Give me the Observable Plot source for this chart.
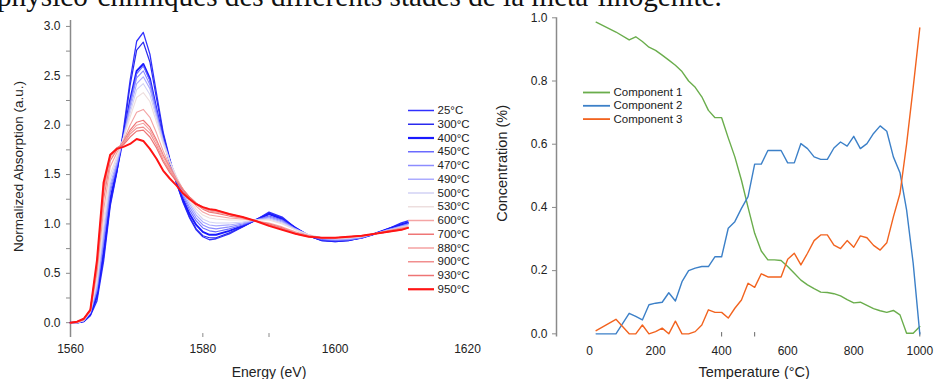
<!DOCTYPE html>
<html>
<head>
<meta charset="utf-8">
<script src="https://cdn.jsdelivr.net/npm/d3@7"></script>
<script src="https://cdn.jsdelivr.net/npm/@observablehq/plot@0.6"></script>
<style>
body{margin:0;background:#fff;}
#wrap{position:relative;width:944px;height:379px;overflow:hidden;background:#fff;font-family:"Liberation Sans",Arial,sans-serif;}
#caption{position:absolute;left:-3px;top:-18px;font:29.2px/29px "Liberation Serif","Times New Roman",serif;color:#111;white-space:nowrap;}
#left{position:absolute;left:0;top:0;}
#right{position:absolute;left:480px;top:0;}
#legL{position:absolute;left:400px;top:100px;}
#legR{position:absolute;left:575px;top:82px;}
</style>
</head>
<body>
<div id="wrap">
  <div id="caption">physico-chimiques des différents stades de la méta-linogénite.</div>
  <div id="left"></div>
  <div id="right"></div>
  <div id="legL"></div>
  <div id="legR"></div>
</div>
<script>
// ---------- Left panel: XANES spectra ----------
const energies = [1560,1561,1562,1563,1564,1565,1566,1567,1568,1569,1570,1571,1572,1573,1574,1575,1576,1577,1578,1579,1580,1581,1582,1584,1586,1588,1590,1592,1594,1596,1598,1600,1602,1604,1606,1608,1610,1611];
const tempLabels = ["25°C","300°C","400°C","450°C","470°C","490°C","500°C","530°C","600°C","700°C","880°C","900°C","930°C","950°C"];
const a25  = [0,0,0.01,0.07,0.22,0.62,1.18,1.52,1.95,2.45,2.85,2.94,2.72,2.32,1.93,1.66,1.42,1.22,1.06,0.94,0.87,0.84,0.85,0.90,0.97,1.04,1.12,1.07,0.96,0.88,0.83,0.82,0.83,0.86,0.90,0.95,1.01,1.03];
const a300 = [0,0,0.01,0.08,0.25,0.66,1.20,1.53,1.92,2.40,2.76,2.84,2.64,2.27,1.91,1.65,1.42,1.23,1.07,0.95,0.88,0.86,0.86,0.91,0.97,1.04,1.11,1.06,0.96,0.88,0.83,0.82,0.83,0.86,0.90,0.95,1.00,1.02];
const a400 = [0,0,0.02,0.09,0.28,0.72,1.25,1.55,1.88,2.25,2.55,2.62,2.47,2.16,1.86,1.63,1.43,1.25,1.10,0.99,0.92,0.89,0.89,0.93,0.98,1.04,1.10,1.05,0.96,0.88,0.84,0.83,0.84,0.86,0.90,0.95,0.99,1.01];
const a450 = [0,0,0.02,0.10,0.32,0.80,1.32,1.58,1.88,2.22,2.52,2.60,2.45,2.15,1.86,1.64,1.45,1.28,1.14,1.03,0.96,0.93,0.92,0.95,0.99,1.04,1.08,1.04,0.95,0.88,0.84,0.83,0.84,0.86,0.90,0.94,0.98,1.00];
const a470 = [0,0,0.02,0.10,0.34,0.84,1.36,1.60,1.88,2.20,2.48,2.55,2.41,2.12,1.85,1.64,1.46,1.30,1.17,1.06,0.99,0.96,0.95,0.97,1.00,1.04,1.07,1.03,0.95,0.88,0.85,0.84,0.84,0.86,0.90,0.94,0.98,1.00];
const a490 = [0,0,0.02,0.11,0.37,0.90,1.40,1.62,1.87,2.16,2.42,2.49,2.37,2.10,1.84,1.64,1.47,1.32,1.20,1.09,1.02,0.99,0.98,0.99,1.01,1.04,1.06,1.02,0.95,0.89,0.85,0.84,0.85,0.87,0.90,0.94,0.97,0.99];
const a500 = [0,0,0.02,0.11,0.40,0.96,1.45,1.65,1.87,2.12,2.36,2.42,2.31,2.07,1.83,1.64,1.48,1.34,1.22,1.12,1.05,1.02,1.01,1.01,1.02,1.04,1.05,1.01,0.94,0.89,0.86,0.85,0.85,0.87,0.90,0.93,0.97,0.98];
const a530 = [0,0,0.03,0.12,0.44,1.04,1.50,1.68,1.87,2.08,2.28,2.33,2.24,2.03,1.81,1.63,1.48,1.35,1.24,1.15,1.09,1.06,1.05,1.04,1.04,1.04,1.04,1.00,0.94,0.89,0.86,0.85,0.86,0.87,0.90,0.93,0.96,0.98];
const a600 = [0,0,0.03,0.12,0.50,1.14,1.58,1.72,1.84,2.00,2.13,2.16,2.08,1.92,1.74,1.59,1.46,1.35,1.26,1.18,1.12,1.09,1.08,1.06,1.05,1.03,1.01,0.97,0.92,0.88,0.86,0.86,0.86,0.88,0.90,0.93,0.96,0.97];
const a700 = [0,0.01,0.03,0.13,0.55,1.25,1.64,1.75,1.83,1.95,2.03,2.05,1.98,1.85,1.70,1.57,1.45,1.35,1.27,1.20,1.15,1.12,1.11,1.08,1.06,1.03,1.00,0.96,0.91,0.88,0.86,0.86,0.87,0.88,0.90,0.93,0.95,0.96];
const a880 = [0,0.01,0.04,0.13,0.58,1.30,1.67,1.76,1.82,1.93,2.00,2.02,1.95,1.83,1.68,1.56,1.45,1.35,1.27,1.21,1.16,1.13,1.12,1.09,1.06,1.03,0.99,0.95,0.91,0.88,0.86,0.86,0.87,0.88,0.90,0.92,0.95,0.96];
const a900 = [0,0.01,0.04,0.13,0.60,1.35,1.69,1.77,1.81,1.91,1.97,1.98,1.92,1.80,1.65,1.54,1.44,1.35,1.27,1.21,1.16,1.14,1.13,1.10,1.07,1.03,0.99,0.95,0.90,0.88,0.86,0.86,0.87,0.88,0.90,0.92,0.95,0.96];
const a930 = [0,0.01,0.04,0.13,0.61,1.38,1.70,1.77,1.80,1.88,1.94,1.95,1.88,1.77,1.63,1.52,1.43,1.34,1.27,1.21,1.17,1.15,1.14,1.10,1.07,1.03,0.99,0.95,0.90,0.87,0.86,0.86,0.87,0.88,0.90,0.92,0.94,0.96];
const a950 = [0,0.01,0.04,0.13,0.63,1.42,1.70,1.76,1.78,1.81,1.86,1.84,1.76,1.66,1.54,1.46,1.39,1.31,1.25,1.20,1.17,1.15,1.14,1.10,1.07,1.03,0.98,0.94,0.90,0.87,0.86,0.86,0.87,0.88,0.90,0.92,0.94,0.96];
const spectra = [a25,a300,a400,a450,a470,a490,a500,a530,a600,a700,a880,a900,a930,a950];
const specColors = ["#3030ff","#2a2aee","#1a1aff","#6a6aff","#8c8cff","#ababff","#d2d2f4","#eddede","#f4a4a4","#ef7676","#f4a2a2","#f18e8e","#ee7474","#ff1414"];
const specWidths = [1.3,1.2,2,1.1,1.1,1.1,1.1,1.1,1.1,1.2,1.1,1.1,1.2,2];
const yTicksL = [0,0.5,1.0,1.5,2.0,2.5,3.0];
const yMinorL = [0.25,0.75,1.25,1.75,2.25,2.75];
const xTicksL = [1560,1580,1600,1620];
const xMinorL = [1580,1590];

// ---------- Right panel: component concentrations ----------
const temperature = [20,80,120,140,160,180,200,220,240,260,280,300,320,340,360,380,400,420,440,460,480,500,520,540,560,580,600,620,640,660,680,700,720,740,760,780,800,820,840,860,880,900,920,940,960,980,1000];
const comp1 = [0.986,0.955,0.930,0.940,0.925,0.907,0.897,0.882,0.866,0.850,0.830,0.800,0.780,0.750,0.707,0.684,0.684,0.620,0.560,0.486,0.400,0.318,0.262,0.234,0.234,0.232,0.213,0.192,0.170,0.155,0.143,0.132,0.131,0.127,0.120,0.108,0.098,0.100,0.090,0.080,0.073,0.068,0.074,0.060,0.002,0.002,0.023];
const comp2 = [0,0,0.065,0.055,0.044,0.092,0.097,0.100,0.130,0.104,0.165,0.200,0.208,0.213,0.213,0.244,0.244,0.334,0.355,0.397,0.434,0.537,0.537,0.580,0.580,0.580,0.541,0.541,0.602,0.586,0.560,0.552,0.552,0.588,0.607,0.594,0.625,0.586,0.602,0.634,0.658,0.641,0.560,0.510,0.392,0.223,0.0];
const comp3 = [0.010,0.046,0.000,0.000,0.028,0.000,0.007,0.018,0.000,0.040,0.000,0.000,0.007,0.028,0.076,0.068,0.068,0.050,0.081,0.107,0.160,0.147,0.190,0.180,0.180,0.180,0.236,0.255,0.218,0.255,0.295,0.313,0.313,0.281,0.270,0.295,0.274,0.310,0.304,0.280,0.265,0.288,0.370,0.444,0.600,0.780,0.968];
const compNames = ["Component 1","Component 2","Component 3"];
const compColors = ["#6aad4c","#3c80c8","#f2631f"];
const yTicksR = [0,0.2,0.4,0.6,0.8,1.0];
const xTicksR = [0,200,400,600,800,1000];
const xMinorR = [400,500,1000];

const font = '"Liberation Sans", Arial, sans-serif';
const axisGray = "#8a8a8a";

const specMarks = spectra.map((arr, i) =>
  Plot.line(energies.map((e, j) => ({E: e, A: arr[j]})), {
    x: "E", y: "A", stroke: specColors[i], strokeWidth: specWidths[i]
  })
);

const left = Plot.plot({
  width: 480, height: 379,
  marginLeft: 70, marginRight: 13, marginTop: 20, marginBottom: 42,
  style: {fontFamily: font, fontSize: "12px", color: "#222", background: "transparent", overflow: "visible"},
  x: {domain: [1560, 1620]},
  y: {domain: [-0.15, 3.06]},
  marks: [
    Plot.ruleX([1560], {y1: -0.15, y2: 3.06, stroke: axisGray, strokeWidth: 1.5}),
    Plot.axisY(yTicksL, {tickSize: 4, tickPadding: 6, stroke: axisGray, fill: "#222", tickFormat: d => d.toFixed(1), label: null}),
    Plot.axisY(yMinorL, {tickSize: 4, stroke: axisGray, tickFormat: () => "", label: null}),
    Plot.axisX(xTicksL, {tickSize: 0, tickPadding: 7, fill: "#222", tickFormat: d => String(d), label: null}),
    Plot.ruleX(xMinorL, {y1: -0.15, y2: -0.11, stroke: axisGray}),
    ...specMarks,
    Plot.text(["Energy (eV)"], {text: d => d, frameAnchor: "bottom", dy: 35, lineAnchor: "middle", textAnchor: "middle", fontSize: 14, fill: "#222"}),
    Plot.text(["Normalized Absorption (a.u.)"], {text: d => d, frameAnchor: "left", dx: -51.5, dy: -12.5, rotate: -90, textAnchor: "middle", lineAnchor: "middle", fontSize: 13.5, fill: "#222"})
  ]
});
document.getElementById("left").append(left);

const compMarks = [comp1, comp2, comp3].map((arr, i) =>
  Plot.line(temperature.map((t, j) => ({T: t, C: arr[j]})), {
    x: "T", y: "C", stroke: compColors[i], strokeWidth: 1.4
  })
);

const right = Plot.plot({
  width: 464, height: 379,
  marginLeft: 76, marginRight: 24.7, marginTop: 17.3, marginBottom: 42.5,
  style: {fontFamily: font, fontSize: "12px", color: "#222", background: "transparent", overflow: "visible"},
  x: {domain: [-100, 1000]},
  y: {domain: [-0.01, 1.0]},
  marks: [
    Plot.ruleX([-100], {y1: -0.01, y2: 1.0, stroke: axisGray, strokeWidth: 1.5}),
    Plot.axisY(yTicksR, {tickSize: 4, tickPadding: 5, stroke: axisGray, fill: "#222", tickFormat: d => d.toFixed(1), label: null}),
    Plot.axisX(xTicksR, {tickSize: 0, tickPadding: 9.5, fill: "#222", tickFormat: d => String(d), label: null}),
    Plot.ruleX(xMinorR, {y1: -0.01, y2: 0.004, stroke: "#666"}),
    ...compMarks,
    Plot.text(["Temperature (°C)"], {text: d => d, frameAnchor: "bottom", dx: 16, dy: 35.5, lineAnchor: "middle", textAnchor: "middle", fontSize: 14.5, fill: "#222"}),
    Plot.text(["Concentration (%)"], {text: d => d, frameAnchor: "left", dx: -54, dy: -14, rotate: -90, textAnchor: "middle", lineAnchor: "middle", fontSize: 14.5, fill: "#222"})
  ]
});
document.getElementById("right").append(right);

// ---------- Legends (small Plots with their own scales) ----------
function legendPlot(labels, colors, widths, step, lineEnd) {
  const n = labels.length;
  return Plot.plot({
    width: 90, height: 20 + (n - 1) * step,
    margin: 0,
    style: {fontFamily: font, fontSize: "11.5px", color: "#222", background: "transparent", overflow: "visible"},
    x: {domain: [0, 90], range: [0, 90], axis: null},
    y: {type: "point", domain: labels, range: [10, 10 + (n - 1) * step], padding: 0, round: false, axis: null},
    color: {type: "identity"},
    marks: [
      Plot.ruleY(labels, {y: d => d, x1: 8, x2: lineEnd, stroke: (d, i) => colors[i], strokeWidth: (d, i) => widths[i]}),
      Plot.text(labels, {y: d => d, x: lineEnd + 3, text: d => d, textAnchor: "start", fill: "#222"})
    ]
  });
}
document.getElementById("legL").append(
  legendPlot(tempLabels, specColors, specWidths.map(w => (w >= 2 ? 2.2 : 1.5)), 13.75, 34)
);
document.getElementById("legR").append(
  legendPlot(compNames, compColors, [1.8, 1.8, 1.8], 13.3, 35)
);
</script>
</body>
</html>
